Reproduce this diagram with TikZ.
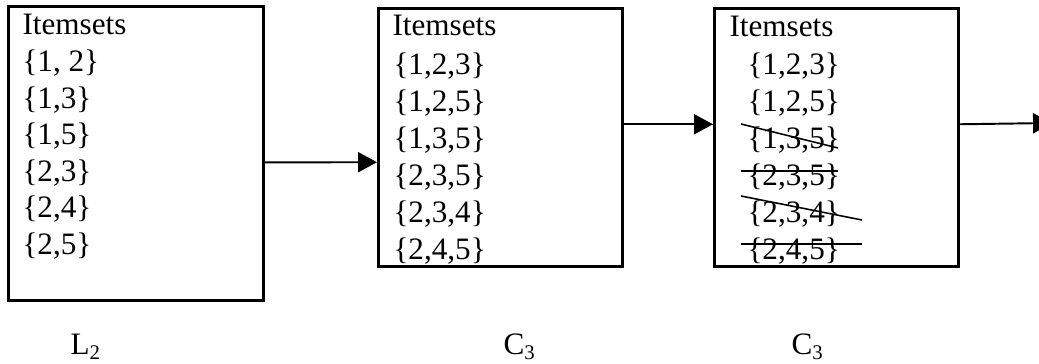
\documentclass[tikz,border=0pt]{standalone}
\usepackage{fontspec}
\setmainfont{Liberation Serif}
\usepackage{tikz}
\usetikzlibrary{arrows.meta}

\begin{document}
\begin{tikzpicture}[x=0.385pt,y=-0.385pt,font=\fontsize{12}{14}\selectfont,
    setbox/.style={draw,line width=1pt,inner sep=0pt,anchor=north west},
    row/.style={inner sep=0pt,anchor=base west},
    link/.style={line width=0.75pt,-{Triangle[length=7.3pt,width=7.7pt]}},
    strike/.style={line width=0.6pt}]
  \useasboundingbox (0,0) rectangle (1039,364);
  % boxes
  \node[setbox,minimum width=98.2pt,minimum height=113.2pt] (l2box) at (7,5) {};
  \node[setbox,minimum width=93.9pt,minimum height=99.3pt] (c3box) at (377,7) {};
  \node[setbox,minimum width=93.9pt,minimum height=99.3pt] (c3pbox) at (713,7) {};
  % itemsets
  \node[row] (l2-0) at (22,35) {Itemsets};
  \foreach \s [count=\i] in {{1, 2},{1,3},{1,5},{2,3},{2,4},{2,5}}
    \node[row] (l2-\i) at (22,35.5+36.5*\i) {\{\s\}};
  \node[row] (c3-0) at (392,36) {Itemsets};
  \foreach \s [count=\i] in {{1,2,3},{1,2,5},{1,3,5},{2,3,5},{2,3,4},{2,4,5}}
    \node[row] (c3-\i) at (393,38+37*\i) {\{\s\}};
  \node[row] (c3p-0) at (729,37) {Itemsets};
  \foreach \s [count=\i] in {{1,2,3},{1,2,5},{1,3,5},{2,3,5},{2,3,4},{2,4,5}}
    \node[row] (c3p-\i) at (747,38+37*\i) {\{\s\}};
  % pruned candidates
  \draw[strike] ([shift={(-6,-25)}]c3p-3.base west) -- ([shift={(91,-1)}]c3p-3.base west);
  \draw[strike] ([shift={(-6,-15)}]c3p-4.base west) -- ([shift={(91,-15)}]c3p-4.base west);
  \draw[strike] ([shift={(-6,-27)}]c3p-5.base west) -- ([shift={(115,-3)}]c3p-5.base west);
  \draw[strike] ([shift={(-6,-16)}]c3p-6.base west) -- ([shift={(115,-16)}]c3p-6.base west);
  % arrows
  \coordinate (next) at (1052,123);
  \draw[link] ([yshift=-3.5pt]l2box.east) -- ([yshift=-9.6pt]c3box.west);
  \draw[link] ([yshift=5pt]c3box.east) -- ([yshift=5pt]c3pbox.west);
  \draw[link] ([yshift=5pt]c3pbox.east) -- (next);
  % labels
  \node[row] (l2lab) at (70,355) {L\textsubscript{2}};
  \node[row] (c3lab) at (503,355) {C\textsubscript{3}};
  \node[row] (c3plab) at (791,355) {C\textsubscript{3}};
\end{tikzpicture}
\end{document}
